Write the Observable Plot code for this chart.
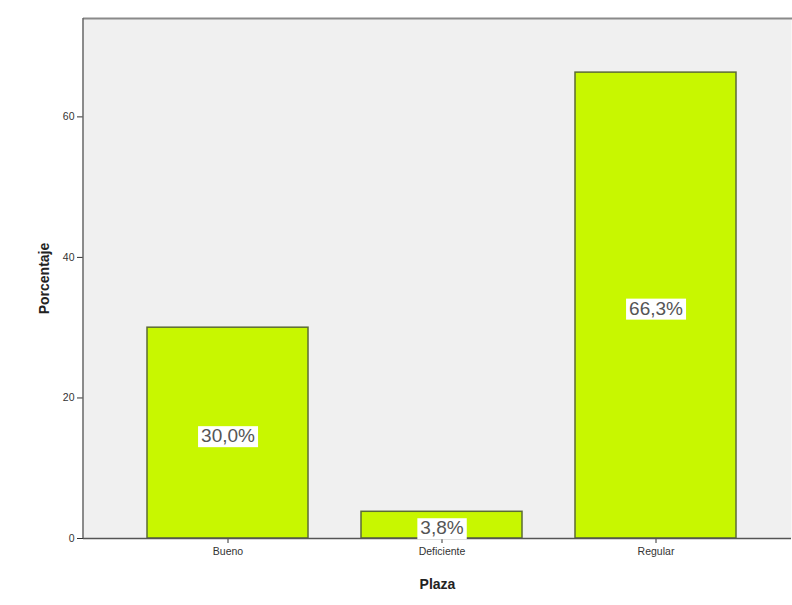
<!DOCTYPE html>
<html>
<head>
<meta charset="utf-8">
<script src="https://cdn.jsdelivr.net/npm/d3@7"></script>
<script src="https://cdn.jsdelivr.net/npm/@observablehq/plot@0.6"></script>
<style>
  html, body { margin: 0; padding: 0; background: #fff; overflow: hidden; }
  #chart svg { display: block; }
  #chart g[aria-label="y-axis label"] text,
  #chart g[aria-label="x-axis label"] text { font-weight: bold; fill: #222; font-size: 14px; }
  #chart g[aria-label="y-axis tick label"] text,
  #chart g[aria-label="x-axis tick label"] text { font-size: 10.5px; }
</style>
</head>
<body>
<div id="chart"></div>
<script>
// Plaza: percentage of responses per category
const categorias = ["Bueno", "Deficiente", "Regular"];
const porcentajes = [30.0, 3.8, 66.3];
const yTicks = [0, 20, 40, 60];

const data = categorias.map((c, i) => ({categoria: c, pct: porcentajes[i]}));
const fmt = v => v.toFixed(1).replace(".", ",") + "%";

const chart = Plot.plot({
  width: 792,
  height: 605,
  marginLeft: 83,
  marginRight: 1,
  marginTop: 18,
  marginBottom: 67,
  style: {fontFamily: "Liberation Sans, Arial, sans-serif", background: "#fff"},
  x: {domain: categorias, range: [83, 799], paddingInner: 0.249, paddingOuter: 0.2935},
  y: {domain: [0, 74]},
  marks: [
    Plot.frame({fill: "#f0f0f0", stroke: null}),
    Plot.barY(data, {x: "categoria", y: "pct", fill: "#c8f700", stroke: "#5b6b35", strokeWidth: 1.5}),
    Plot.axisY({ticks: yTicks, tickSize: 6, tickPadding: 3, color: "#333",
      label: "Porcentaje", labelAnchor: "center", labelArrow: "none", labelOffset: 44}),
    Plot.axisX({tickSize: 5, tickPadding: 4, color: "#333",
      label: "Plaza", labelAnchor: "center", labelArrow: "none", labelOffset: 50}),
    Plot.ruleY([0], {stroke: "#555", strokeWidth: 1.5}),
    Plot.text(data, {x: "categoria", y: d => d.pct / 2, text: d => fmt(d.pct),
      fontSize: 19, fill: "#555", dy: 3})
  ]
});

// plot border: top and left lines
const svg = d3.select(chart);
svg.append("line").attr("x1", 83).attr("x2", 792).attr("y1", 18.5).attr("y2", 18.5)
  .attr("stroke", "#8a8a8a").attr("stroke-width", 2);
svg.append("line").attr("x1", 83).attr("x2", 83).attr("y1", 18).attr("y2", 538)
  .attr("stroke", "#666").attr("stroke-width", 1.5);

document.getElementById("chart").appendChild(chart);

// white boxes behind the value labels
svg.selectAll('g[aria-label="text"] text').each(function() {
  const b = this.getBBox();
  const t = this.getAttribute("transform");
  const r = document.createElementNS("http://www.w3.org/2000/svg", "rect");
  r.setAttribute("x", b.x - 3);
  r.setAttribute("y", b.y + 1);
  r.setAttribute("width", b.width + 6);
  r.setAttribute("height", b.height);
  r.setAttribute("fill", "#fff");
  if (t) r.setAttribute("transform", t);
  this.parentNode.insertBefore(r, this);
});
</script>
</body>
</html>
